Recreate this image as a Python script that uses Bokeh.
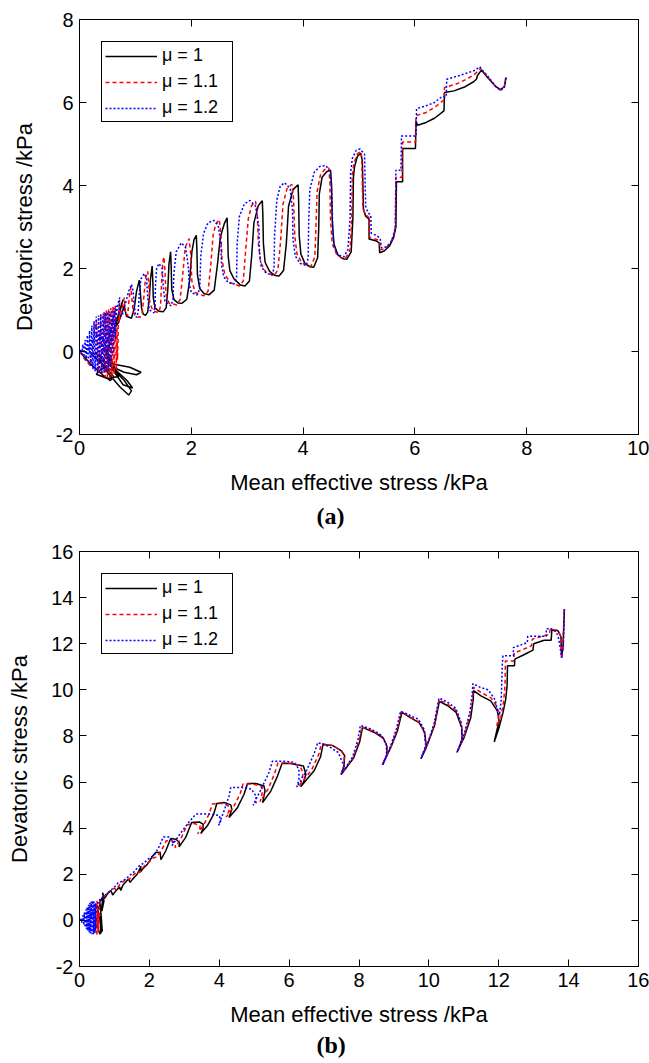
from bokeh.plotting import figure
from bokeh.models import (Legend, LegendItem, LinearAxis, FixedTicker, Range1d, Title)
from bokeh.layouts import column
from bokeh.embed import file_html
from bokeh.resources import INLINE

# ---------------- data ----------------
series_labels = ["\u03bc = 1", "\u03bc = 1.1", "\u03bc = 1.2"]
series_colors = ["black", "red", "blue"]

xticks_a = [0, 2, 4, 6, 8, 10]
yticks_a = [-2, 0, 2, 4, 6, 8]
xticks_b = [0, 2, 4, 6, 8, 10, 12, 14, 16]
yticks_b = [-2, 0, 2, 4, 6, 8, 10, 12, 14, 16]

# panel (a): (mean effective stress, deviatoric stress) in kPa
a_mu1 = [(0.00, 0.00), (0.20, -0.30), (0.40, -0.55), (0.55, -0.70), (0.62, -0.62), (0.45, -0.35),
         (0.20, -0.05), (0.30, -0.05), (0.55, -0.35), (0.80, -0.70), (0.93, -0.95), (0.88, -1.05),
         (0.72, -0.85), (0.50, -0.50), (0.35, -0.20), (0.60, -0.30), (0.90, -0.38), (1.10, -0.50),
         (1.02, -0.56), (0.80, -0.50), (0.55, -0.35), (0.45, 0.10), (0.60, -0.45), (0.78, -0.80),
         (0.95, -0.88), (0.85, -0.70), (0.65, -0.45), (0.40, -0.40), (0.30, -0.55), (0.50, -0.65),
         (0.70, -0.60), (0.50, 0.00), (0.60, 0.45), (0.70, 0.85),
         (0.78, 1.25), (0.72, 1.00), (0.62, 0.55), (0.70, 0.70), (0.80, 1.10), (0.84, 0.85),
         (0.93, 0.80), (0.98, 1.05), (1.02, 1.45), (1.07, 1.72), (1.09, 1.40), (1.11, 1.05),
         (1.14, 0.90), (1.18, 0.87),
         (1.22, 0.95), (1.25, 1.30), (1.27, 1.75), (1.30, 2.06), (1.31, 1.75), (1.32, 1.30),
         (1.35, 1.05), (1.42, 0.97), (1.50, 0.96),
         (1.55, 1.05), (1.58, 1.50), (1.60, 2.10), (1.63, 2.40), (1.64, 2.05), (1.65, 1.50),
         (1.69, 1.25), (1.76, 1.17), (1.83, 1.16),
         (1.92, 1.26), (1.97, 1.70), (2.01, 2.40), (2.05, 2.70), (2.09, 2.80), (2.10, 2.45),
         (2.11, 1.85), (2.15, 1.52), (2.23, 1.39), (2.32, 1.37),
         (2.41, 1.48), (2.47, 2.12), (2.52, 2.76), (2.59, 3.08), (2.64, 3.22), (2.65, 2.90),
         (2.66, 2.30), (2.69, 1.95), (2.76, 1.76), (2.88, 1.60), (2.96, 1.58),
         (3.04, 1.70), (3.08, 2.30), (3.12, 3.10), (3.20, 3.52), (3.27, 3.63), (3.28, 3.30),
         (3.29, 2.60), (3.32, 2.15), (3.40, 1.93), (3.50, 1.83), (3.57, 1.82),
         (3.65, 1.95), (3.70, 2.60), (3.74, 3.50), (3.82, 3.90), (3.91, 4.02), (3.92, 3.65),
         (3.93, 2.80), (3.96, 2.35), (4.03, 2.13), (4.12, 2.04), (4.19, 2.03),
         (4.26, 2.26), (4.28, 3.00), (4.29, 3.80), (4.34, 4.20), (4.42, 4.33), (4.49, 4.37),
         (4.51, 4.00), (4.52, 3.20), (4.55, 2.60), (4.62, 2.33), (4.70, 2.24), (4.78, 2.22),
         (4.86, 2.40), (4.89, 3.20), (4.90, 4.20), (4.92, 4.45), (4.97, 4.70), (5.03, 4.78),
         (5.06, 4.60), (5.07, 4.00), (5.08, 3.42), (5.12, 3.26), (5.18, 3.19), (5.18, 2.71),
         (5.30, 2.67), (5.36, 2.62), (5.37, 2.38), (5.45, 2.42), (5.55, 2.55), (5.62, 2.75),
         (5.66, 3.00), (5.67, 4.09), (5.78, 4.09), (5.78, 4.89), (6.01, 4.89), (6.02, 5.55),
         (6.05, 5.45), (6.20, 5.52), (6.35, 5.62), (6.52, 5.80), (6.53, 6.24), (6.70, 6.28),
         (6.90, 6.38), (7.05, 6.50), (7.10, 6.56), (7.12, 6.65), (7.19, 6.78), (7.30, 6.60),
         (7.45, 6.38), (7.53, 6.31), (7.60, 6.38), (7.63, 6.60)]

a_mu11 = [(0.00, 0.00), (0.10, -0.20), (0.20, -0.35), (0.30, 0.75), (0.34, -0.50), (0.38, 0.90),
          (0.40, -0.60), (0.44, 0.95), (0.46, -0.62), (0.48, 1.00), (0.50, -0.65), (0.52, 1.02),
          (0.54, -0.62), (0.56, 1.05), (0.58, -0.60), (0.60, 1.08), (0.62, -0.55), (0.64, 1.10),
          (0.66, -0.45), (0.67, 0.60), (0.68, -0.20), (0.70, 0.90), (0.72, 1.20), (0.70, 0.70),
          (0.75, 0.95), (0.80, 1.30), (0.82, 0.95), (0.86, 0.85), (0.88, 1.15), (0.90, 1.40),
          (0.92, 1.55),
          (0.94, 1.25), (0.96, 0.95), (1.00, 0.85), (1.08, 0.82),
          (1.12, 0.92), (1.15, 1.30), (1.18, 1.75), (1.22, 1.93),
          (1.24, 1.60), (1.26, 1.15), (1.32, 0.97), (1.42, 0.94),
          (1.45, 1.10), (1.47, 1.70), (1.49, 2.15), (1.51, 2.28),
          (1.53, 1.90), (1.55, 1.35), (1.60, 1.17), (1.74, 1.12),
          (1.80, 1.25), (1.85, 1.90), (1.89, 2.50), (1.96, 2.72),
          (1.99, 2.35), (2.01, 1.70), (2.07, 1.42), (2.22, 1.34),
          (2.30, 1.45), (2.35, 2.10), (2.39, 2.80), (2.44, 3.08), (2.50, 3.18),
          (2.53, 2.85), (2.55, 2.20), (2.60, 1.85), (2.70, 1.66), (2.86, 1.58),
          (2.93, 1.70), (2.97, 2.40), (3.02, 3.20), (3.08, 3.52), (3.15, 3.62),
          (3.18, 3.30), (3.20, 2.60), (3.24, 2.15), (3.33, 1.92), (3.48, 1.82),
          (3.55, 1.97), (3.60, 2.70), (3.64, 3.55), (3.71, 3.92), (3.80, 4.03),
          (3.83, 3.65), (3.85, 2.80), (3.89, 2.35), (3.98, 2.13), (4.14, 2.05),
          (4.21, 2.28), (4.23, 3.00), (4.25, 3.85), (4.31, 4.25), (4.38, 4.38), (4.46, 4.42),
          (4.48, 4.05), (4.49, 3.20), (4.52, 2.60), (4.60, 2.34), (4.68, 2.26), (4.76, 2.25),
          (4.84, 2.45), (4.87, 3.25), (4.88, 4.25), (4.91, 4.55), (4.97, 4.76), (5.03, 4.82),
          (5.05, 4.65), (5.06, 4.00), (5.07, 3.45), (5.12, 3.30), (5.18, 3.22), (5.19, 2.75),
          (5.32, 2.70), (5.37, 2.66), (5.38, 2.45), (5.46, 2.48), (5.56, 2.60), (5.62, 2.80),
          (5.65, 3.00), (5.66, 4.20), (5.77, 4.20), (5.78, 5.05), (6.01, 5.05), (6.02, 5.68),
          (6.20, 5.76), (6.35, 5.88), (6.52, 6.06), (6.53, 6.36), (6.75, 6.45), (6.95, 6.58),
          (7.05, 6.66), (7.10, 6.72), (7.17, 6.82), (7.30, 6.62), (7.45, 6.38), (7.53, 6.30),
          (7.60, 6.38), (7.63, 6.62)]

a_mu12 = [(0.00, 0.00), (0.02, 0.06), (0.04, -0.07), (0.06, 0.17), (0.08, -0.14), (0.10, 0.28),
          (0.12, -0.22), (0.14, 0.39), (0.16, -0.29), (0.18, 0.50), (0.20, -0.36), (0.22, 0.62),
          (0.24, -0.43), (0.26, 0.73), (0.28, -0.48), (0.30, 0.84), (0.32, -0.50), (0.34, 0.87),
          (0.36, -0.52), (0.38, 0.89), (0.40, -0.53), (0.42, 0.91), (0.44, -0.52), (0.46, 0.93),
          (0.48, -0.50), (0.50, 0.95), (0.52, -0.45), (0.54, 0.97), (0.56, -0.35), (0.58, 1.00),
          (0.60, -0.10), (0.62, 1.05), (0.64, 0.30), (0.66, 1.10), (0.50, 0.20), (0.30, 0.40),
          (0.15, 0.05), (0.35, -0.25), (0.55, 0.50), (0.62, 0.50), (0.68, 1.10), (0.72, 1.30),
          (0.70, 0.90), (0.76, 0.85), (0.82, 1.15), (0.88, 1.45), (0.93, 1.62),
          (0.96, 1.45), (0.98, 1.10), (1.00, 0.90), (1.02, 0.82),
          (1.05, 0.95), (1.07, 1.40), (1.10, 1.75), (1.16, 1.88),
          (1.20, 1.75), (1.22, 1.30), (1.25, 1.00), (1.33, 0.93),
          (1.35, 1.10), (1.36, 1.60), (1.38, 2.00), (1.42, 2.12),
          (1.48, 2.00), (1.50, 1.55), (1.53, 1.20), (1.64, 1.10),
          (1.67, 1.25), (1.69, 1.90), (1.73, 2.40), (1.82, 2.62),
          (1.90, 2.50), (1.95, 2.00), (1.96, 1.65), (2.00, 1.42), (2.10, 1.36),
          (2.15, 1.50), (2.17, 2.30), (2.22, 2.85), (2.30, 3.10), (2.40, 3.16),
          (2.48, 3.05), (2.53, 2.60), (2.54, 2.10), (2.58, 1.80), (2.66, 1.66), (2.76, 1.62),
          (2.81, 1.78), (2.82, 2.60), (2.86, 3.25), (2.95, 3.56), (3.05, 3.64),
          (3.15, 3.50), (3.21, 3.00), (3.22, 2.40), (3.25, 2.05), (3.33, 1.90), (3.44, 1.84),
          (3.48, 2.00), (3.49, 2.80), (3.53, 3.65), (3.59, 3.98), (3.67, 4.07),
          (3.77, 3.92), (3.81, 3.40), (3.82, 2.70), (3.86, 2.30), (3.95, 2.12), (4.06, 2.07),
          (4.09, 2.25), (4.10, 3.10), (4.12, 3.90), (4.20, 4.32), (4.30, 4.46), (4.41, 4.48),
          (4.49, 4.30), (4.52, 3.60), (4.53, 2.90), (4.56, 2.50), (4.63, 2.33), (4.73, 2.28),
          (4.80, 2.45), (4.84, 3.20), (4.85, 4.30), (4.88, 4.65), (4.95, 4.85), (5.02, 4.88),
          (5.10, 4.75), (5.11, 4.00), (5.12, 3.50), (5.16, 3.35), (5.21, 3.28), (5.22, 2.85),
          (5.33, 2.78), (5.38, 2.72), (5.40, 2.50), (5.48, 2.52), (5.57, 2.62), (5.62, 2.82),
          (5.65, 3.00), (5.66, 4.37), (5.75, 4.37), (5.76, 5.19), (6.02, 5.19), (6.03, 5.85),
          (6.20, 5.92), (6.35, 6.00), (6.48, 6.14), (6.56, 6.14), (6.57, 6.56), (6.80, 6.65),
          (7.00, 6.74), (7.08, 6.78), (7.16, 6.86), (7.30, 6.64), (7.45, 6.38), (7.53, 6.29),
          (7.60, 6.36), (7.63, 6.62)]

# panel (b)
b_mu1 = [(0.50, 0.00), (0.55, -0.50), (0.62, -0.55), (0.58, 0.10), (0.52, 0.50), (0.60, 0.70),
         (0.63, -0.30), (0.57, -0.60), (0.65, -0.45), (0.62, 0.20), (0.58, 0.80), (0.66, 1.00),
         (0.64, 0.40), (0.70, 0.85), (0.66, 1.20), (0.72, 0.95), (0.80, 1.15), (0.90, 1.30),
         (0.95, 1.10), (1.05, 1.30), (1.15, 1.45), (1.18, 1.30), (1.25, 1.55), (1.40, 1.80),
         (1.45, 1.65), (1.52, 1.79), (1.65, 2.00), (1.76, 2.35), (1.74, 2.10), (1.80, 2.22),
         (1.95, 2.45), (2.10, 2.80), (2.18, 2.95), (2.31, 2.95), (2.33, 2.63),
         (2.47, 3.02), (2.61, 3.55), (2.76, 3.52), (2.86, 3.38), (2.85, 3.19),
         (3.04, 3.60), (3.21, 4.25), (3.43, 4.27), (3.54, 4.17), (3.53, 3.95), (3.47, 3.77),
         (3.66, 4.10), (3.84, 4.60), (3.93, 5.07), (4.14, 5.11), (4.33, 5.01), (4.36, 4.82),
         (4.28, 4.46),
         (4.52, 4.89), (4.71, 5.47), (4.81, 5.94), (5.05, 5.94), (5.28, 5.83), (5.31, 5.62),
         (5.24, 5.11),
         (5.48, 5.62), (5.67, 6.27), (5.80, 6.82), (6.05, 6.80), (6.41, 6.70), (6.48, 6.34),
         (6.41, 5.98), (6.33, 5.80),
         (6.72, 6.50), (6.90, 7.10), (6.97, 7.63), (7.25, 7.58), (7.50, 7.35), (7.59, 7.14),
         (7.57, 6.70), (7.49, 6.33),
         (7.85, 7.05), (8.02, 7.75), (8.10, 8.37), (8.44, 8.15), (8.70, 7.90), (8.80, 7.55),
         (8.80, 7.15), (8.67, 6.75),
         (8.91, 7.50), (9.10, 8.22), (9.23, 9.02), (9.48, 8.78), (9.72, 8.58), (9.88, 8.15),
         (9.93, 7.50), (9.77, 7.00),
         (9.96, 7.64), (10.16, 8.44), (10.30, 9.50), (10.54, 9.31), (10.78, 9.02), (10.94, 8.37),
         (10.95, 7.79), (10.80, 7.28),
         (11.01, 7.94), (11.20, 8.80), (11.27, 9.60), (11.28, 9.97), (11.49, 9.74), (11.77, 9.52),
         (11.96, 9.09), (12.01, 8.66), (11.87, 7.74),
         (12.01, 8.37), (12.12, 9.00), (12.20, 9.60), (12.24, 10.20), (12.25, 11.05), (12.45, 11.05),
         (12.46, 11.33), (12.69, 11.50), (12.98, 11.72), (13.00, 12.00), (13.30, 12.15),
         (13.50, 12.15), (13.52, 12.60), (13.70, 12.56), (13.78, 12.30), (13.80, 11.40),
         (13.84, 11.90), (13.88, 13.50)]

b_mu11 = [(0.40, 0.00), (0.45, -0.55), (0.50, -0.60), (0.48, 0.10), (0.42, 0.60), (0.50, 0.80),
          (0.53, -0.20), (0.47, -0.55), (0.55, -0.40), (0.52, 0.30), (0.50, 0.85), (0.54, -0.50),
          (0.49, 0.70), (0.56, -0.10), (0.58, 0.95),
          (0.75, 1.10), (0.90, 1.30), (1.00, 1.40), (1.05, 1.32), (1.15, 1.55), (1.30, 1.75),
          (1.38, 1.70), (1.50, 1.92), (1.65, 2.12), (1.72, 2.08), (1.85, 2.35), (2.00, 2.55),
          (2.12, 2.72), (2.22, 2.75),
          (2.35, 3.05), (2.48, 3.45), (2.65, 3.45), (2.75, 3.32), (2.74, 3.15),
          (2.92, 3.60), (3.08, 4.15), (3.30, 4.20), (3.45, 4.10), (3.44, 3.88), (3.38, 3.75),
          (3.56, 4.15), (3.72, 4.65), (3.80, 5.05), (4.05, 5.08), (4.25, 4.98), (4.28, 4.75),
          (4.20, 4.48),
          (4.42, 4.95), (4.60, 5.50), (4.68, 5.92), (4.95, 5.92), (5.20, 5.82), (5.24, 5.60),
          (5.17, 5.15),
          (5.40, 5.70), (5.58, 6.35), (5.68, 6.83), (6.00, 6.82), (6.30, 6.72), (6.40, 6.40),
          (6.35, 6.00), (6.28, 5.80),
          (6.65, 6.55), (6.85, 7.20), (6.92, 7.66), (7.22, 7.60), (7.48, 7.38), (7.58, 7.15),
          (7.56, 6.70), (7.49, 6.35),
          (7.84, 7.08), (8.00, 7.80), (8.08, 8.40), (8.42, 8.20), (8.68, 7.95), (8.80, 7.58),
          (8.80, 7.18), (8.67, 6.78),
          (8.91, 7.52), (9.09, 8.25), (9.21, 9.05), (9.46, 8.82), (9.70, 8.62), (9.87, 8.20),
          (9.92, 7.55), (9.78, 7.04),
          (9.97, 7.68), (10.16, 8.48), (10.29, 9.57), (10.53, 9.38), (10.78, 9.10), (10.94, 8.45),
          (10.95, 7.85), (10.82, 7.32),
          (11.01, 8.00), (11.18, 8.90), (11.26, 9.70), (11.27, 10.12), (11.50, 9.88), (11.78, 9.65),
          (11.96, 9.25), (12.00, 8.85), (11.94, 8.40),
          (12.06, 8.80), (12.14, 9.50), (12.18, 10.20), (12.19, 11.25), (12.43, 11.25),
          (12.44, 11.60), (12.70, 11.75), (12.94, 11.92), (12.96, 12.20), (13.30, 12.35),
          (13.45, 12.40), (13.47, 12.62), (13.70, 12.58), (13.78, 12.30), (13.80, 11.38),
          (13.84, 11.95), (13.87, 13.45)]

b_mu12 = [(0.03, 0.00), (0.05, 0.08), (0.07, -0.10), (0.10, 0.22), (0.12, -0.20), (0.14, 0.35),
          (0.16, -0.30), (0.18, 0.47), (0.20, -0.38), (0.22, 0.58), (0.24, -0.45), (0.26, 0.68),
          (0.28, -0.52), (0.30, 0.76), (0.32, -0.57), (0.34, 0.82), (0.36, -0.60), (0.38, 0.85),
          (0.40, -0.60), (0.42, 0.82), (0.43, -0.55), (0.45, 0.75), (0.46, -0.45), (0.48, 0.60),
          (0.30, 0.10), (0.40, 0.20), (0.50, 0.60), (0.55, 0.85),
          (0.70, 1.05), (0.85, 1.25), (1.00, 1.45), (1.10, 1.62), (1.25, 1.72), (1.40, 1.90),
          (1.55, 2.10), (1.70, 2.35), (1.85, 2.50), (2.00, 2.70), (2.15, 2.85),
          (2.28, 3.20), (2.40, 3.62), (2.58, 3.62), (2.68, 3.45), (2.65, 3.25),
          (2.90, 3.80), (3.15, 4.30), (3.33, 4.61), (3.70, 4.62), (4.00, 4.55), (4.04, 4.30),
          (3.98, 4.12),
          (4.15, 4.80), (4.28, 5.40), (4.33, 5.76), (4.65, 5.76), (4.92, 5.70), (5.05, 5.40),
          (5.05, 5.10), (4.97, 5.00),
          (5.20, 5.70), (5.42, 6.40), (5.52, 6.90), (5.85, 6.90), (6.15, 6.86), (6.28, 6.55),
          (6.28, 6.10), (6.22, 5.78),
          (6.50, 6.50), (6.72, 7.25), (6.82, 7.71), (7.12, 7.56), (7.41, 7.28), (7.57, 6.69),
          (7.49, 6.33),
          (7.82, 7.10), (7.97, 7.85), (8.04, 8.46), (8.35, 8.30), (8.62, 8.05), (8.78, 7.65),
          (8.79, 7.20), (8.68, 6.73),
          (8.90, 7.55), (9.07, 8.30), (9.19, 9.07), (9.45, 8.90), (9.70, 8.72), (9.86, 8.30),
          (9.91, 7.60), (9.78, 7.04),
          (9.97, 7.70), (10.15, 8.55), (10.29, 9.64), (10.52, 9.48), (10.77, 9.20), (10.93, 8.55),
          (10.95, 7.90), (10.82, 7.32),
          (11.00, 8.05), (11.17, 9.00), (11.24, 9.80), (11.26, 10.27), (11.48, 10.10),
          (11.70, 10.00), (11.90, 9.56), (11.96, 9.12), (12.02, 8.90),
          (12.07, 9.56), (12.10, 11.04), (12.12, 11.48), (12.42, 11.48), (12.42, 11.83),
          (12.82, 12.05), (12.83, 12.32), (13.36, 12.32), (13.36, 12.64), (13.48, 12.67),
          (13.65, 12.50), (13.72, 12.20), (13.80, 11.40), (13.85, 11.90), (13.88, 13.50)]

# ---------------- styling ----------------
FONT = "Liberation Sans"
SERIF = "Liberation Serif"
DASHES = ["solid", "4 3", "2 2"]


def make_panel(xr, yr, xt, yt, paths, border_top, border_bottom, tag, tag_standoff):
    p = figure(frame_width=559, frame_height=415,
               x_range=Range1d(*xr), y_range=Range1d(*yr),
               output_backend="svg", toolbar_location=None,
               min_border_left=79, min_border_right=11,
               min_border_top=border_top, min_border_bottom=border_bottom,
               background_fill_color="white", border_fill_color="white")
    p.outline_line_color = "black"
    p.outline_line_width = 1
    p.grid.visible = False

    for ax, ticks in ((p.xaxis[0], xt), (p.yaxis[0], yt)):
        ax.ticker = FixedTicker(ticks=ticks)
        ax.major_label_overrides = {t: str(t) for t in ticks}
        ax.major_tick_in = 7
        ax.major_tick_out = 0
        ax.minor_tick_line_color = None
        ax.axis_line_color = "black"
        ax.major_tick_line_color = "black"
        ax.major_label_text_font = FONT
        ax.major_label_text_font_size = "20px"
        ax.major_label_text_color = "black"
        ax.axis_label_text_font = FONT
        ax.axis_label_text_font_size = "22px"
        ax.axis_label_text_font_style = "normal"
        ax.axis_label_text_color = "black"
        ax.major_label_standoff = 6
    p.xaxis.axis_label = "Mean effective stress /kPa"
    p.yaxis.axis_label = "Devatoric stress /kPa"
    p.xaxis.axis_label_standoff = 12
    p.yaxis.axis_label_standoff = 16

    for loc, ticks in (("above", xt), ("right", yt)):
        ax = LinearAxis(ticker=FixedTicker(ticks=ticks), major_tick_in=7, major_tick_out=0,
                        minor_tick_line_color=None, major_label_standoff=0,
                        major_label_overrides={t: "" for t in ticks},
                        axis_line_color="black")
        p.add_layout(ax, loc)

    renderers = []
    for path, col, dash in zip(paths, series_colors, DASHES):
        xs = [pt[0] for pt in path]
        ys = [pt[1] for pt in path]
        r = p.line(xs, ys, line_color=col, line_width=1.5, line_dash=dash)
        renderers.append(r)

    items = [LegendItem(label=lab, renderers=[r]) for lab, r in zip(series_labels, renderers)]
    leg = Legend(items=items, location="top_left", margin=22, padding=3, spacing=5,
                 glyph_width=52, glyph_height=20, label_height=20, label_width=67,
                 label_standoff=5, label_text_font=FONT, label_text_font_size="18px",
                 label_text_color="black",
                 border_line_color="black", border_line_width=1, border_line_alpha=1,
                 background_fill_color="white", background_fill_alpha=1)
    p.add_layout(leg)

    p.add_layout(Title(text="(" + tag + ")", align="left", offset=237, standoff=tag_standoff,
                       text_font=SERIF, text_font_size="24px", text_font_style="bold",
                       text_color="black"), "below")
    return p


pa = make_panel((0, 10), (-2, 8), xticks_a, yticks_a, [a_mu1, a_mu11, a_mu12], 19, 106, "a", 6)
pb = make_panel((0, 16), (-2, 16), xticks_b, yticks_b, [b_mu1, b_mu11, b_mu12], 11, 97, "b", 1)

layout = column(pa, pb, spacing=0)
open("out.html", "w").write(file_html(layout, INLINE))
